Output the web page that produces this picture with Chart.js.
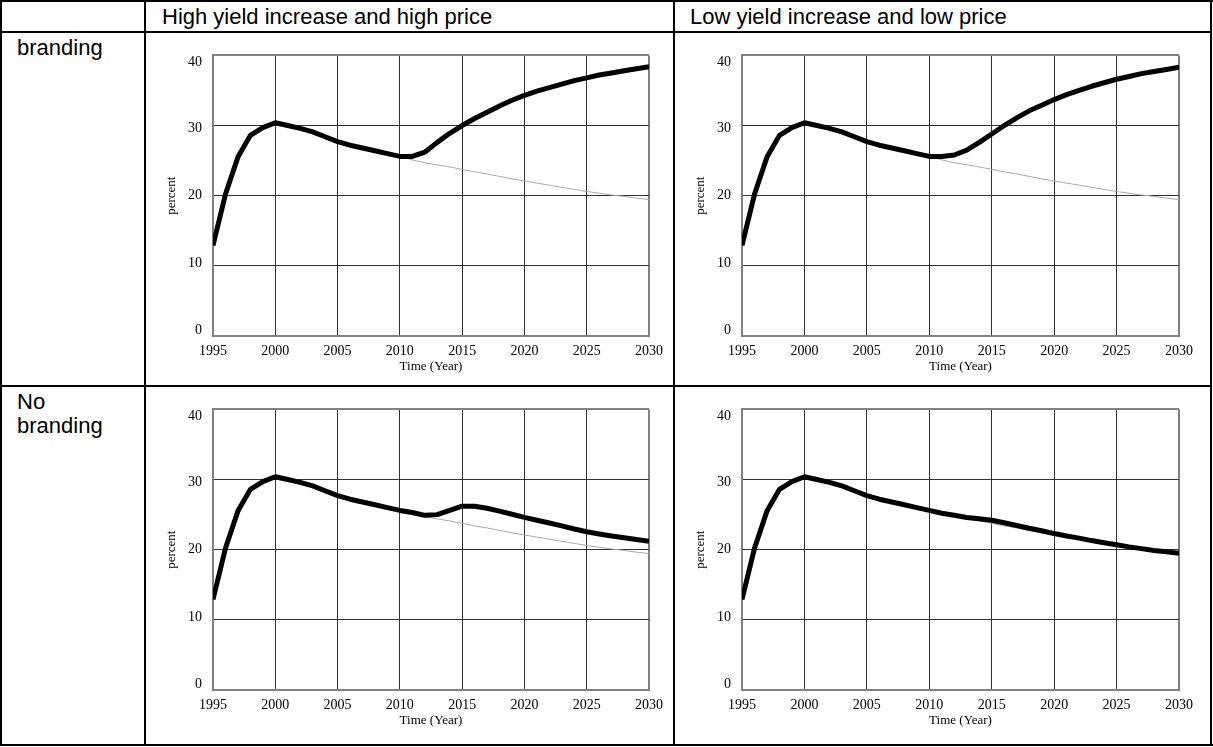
<!DOCTYPE html>
<html>
<head>
<meta charset="utf-8">
<script src="https://cdn.jsdelivr.net/npm/chart.js@4.4.1/dist/chart.umd.min.js"></script>
<style>
  body { margin: 0; background: #fff; width: 1213px; height: 747px; position: relative; overflow: hidden; font-family: "Liberation Sans", Arial, sans-serif; color: #000; }
  .line { position: absolute; background: #000; }
  .head { position: absolute; top: 2px; height: 30px; line-height: 30px; font-size: 22px; white-space: nowrap; }
  .rowlab { position: absolute; left: 17px; width: 112px; font-size: 22px; line-height: 24px; }
  canvas { position: absolute; }
</style>
</head>
<body>
<!-- table frame -->
<div class="line" style="left:0;top:0;width:1213px;height:2px"></div>
<div class="line" style="left:0;top:744px;width:1213px;height:2px"></div>
<div class="line" style="left:0;top:0;width:2px;height:746px"></div>
<div class="line" style="left:1210px;top:0;width:2px;height:746px"></div>
<div class="line" style="left:0;top:31px;width:1212px;height:2px"></div>
<div class="line" style="left:0;top:385px;width:1212px;height:2px"></div>
<div class="line" style="left:144px;top:0;width:2px;height:746px"></div>
<div class="line" style="left:673px;top:0;width:2px;height:746px"></div>

<div class="head" style="left:162px">High yield increase and high price</div>
<div class="head" style="left:690px">Low yield increase and low price</div>
<div class="rowlab" style="top:36px">branding</div>
<div class="rowlab" style="top:390px">No branding</div>

<canvas id="c1" width="520" height="348" style="left:150px;top:36px"></canvas>
<canvas id="c2" width="521" height="348" style="left:679px;top:36px"></canvas>
<canvas id="c3" width="520" height="348" style="left:150px;top:390px"></canvas>
<canvas id="c4" width="521" height="348" style="left:679px;top:390px"></canvas>

<script>
// Years on the x axis
const years = [1995, 1996, 1997, 1998, 1999, 2000, 2001, 2002, 2003, 2004, 2005, 2006,
    2007, 2008, 2009, 2010, 2011, 2012, 2013, 2014, 2015, 2016, 2017, 2018,
    2019, 2020, 2021, 2022, 2023, 2024, 2025, 2026, 2027, 2028, 2029, 2030];
const xTicks = [1995, 2000, 2005, 2010, 2015, 2020, 2025, 2030];
const yTicks = [0, 10, 20, 30, 40];

// Reference run (thin grey line, same in every panel)
const baseline = [12.9, 20.2, 25.5, 28.6, 29.7, 30.4, 30.0, 29.6, 29.1, 28.4, 27.7, 27.2,
    26.8, 26.4, 26.0, 25.6, 25.1, 24.7, 24.4, 24.1, 23.75, 23.4, 23.1, 22.75,
    22.4, 22.1, 21.8, 21.5, 21.2, 20.9, 20.6, 20.35, 20.1, 19.9, 19.65, 19.45];

// Scenario runs (thick black line)
const brandHigh = [12.9, 20.2, 25.5, 28.6, 29.7, 30.4, 30.0, 29.6, 29.1, 28.4, 27.7, 27.2,
    26.8, 26.4, 26.0, 25.6, 25.6, 26.2, 27.6, 28.9, 30.0, 31.0, 31.9, 32.8,
    33.6, 34.3, 34.9, 35.4, 35.9, 36.4, 36.8, 37.2, 37.5, 37.8, 38.1, 38.4];
const brandLow = [12.9, 20.2, 25.5, 28.6, 29.7, 30.4, 30.0, 29.6, 29.1, 28.4, 27.7, 27.2,
    26.8, 26.4, 26.0, 25.6, 25.6, 25.8, 26.5, 27.6, 28.8, 30.0, 31.1, 32.1,
    32.9, 33.7, 34.4, 35.0, 35.6, 36.1, 36.6, 37.0, 37.4, 37.7, 38.0, 38.3];
const noBrandHigh = [12.9, 20.2, 25.5, 28.6, 29.7, 30.4, 30.0, 29.6, 29.1, 28.4, 27.7, 27.2,
    26.8, 26.4, 26.0, 25.6, 25.3, 24.9, 25.0, 25.6, 26.2, 26.2, 25.9, 25.5,
    25.05, 24.6, 24.2, 23.8, 23.4, 22.95, 22.55, 22.25, 21.95, 21.7, 21.45, 21.2];
const noBrandLow = [12.9, 20.2, 25.5, 28.6, 29.7, 30.4, 30.0, 29.6, 29.1, 28.4, 27.7, 27.2,
    26.8, 26.4, 26.0, 25.6, 25.2, 24.9, 24.6, 24.4, 24.2, 23.85, 23.45, 23.05,
    22.7, 22.3, 21.95, 21.65, 21.3, 21.0, 20.7, 20.4, 20.15, 19.9, 19.7, 19.5];

const serif = 'Liberation Serif, Times New Roman, serif';
const frameColor = '#808080';
const gridColor = '#333';

// The y labels sit a little inside the frame at the ends (vensim style)
const yLabelShift = [-6, -3, 0, 3, 7];
const labelShiftPlugin = {
    id: 'labelShift',
    beforeDraw(chart) {
        const items = chart.scales.y.getLabelItems();
        items.forEach((item, i) => {
            if (item.shifted) return;
            item.options.translation[1] += yLabelShift[i] || 0;
            item.shifted = true;
        });
    }
};

function toPoints(arr) {
    return arr.map((v, i) => ({ x: years[i], y: v }));
}

function makePanel(id, values) {
    const xFirst = xTicks[0], xLast = xTicks[xTicks.length - 1];
    const yFirst = yTicks[0], yLast = yTicks[yTicks.length - 1];
    new Chart(document.getElementById(id), {
        type: 'line',
        data: {
            datasets: [{
                data: toPoints(values),
                borderColor: '#000',
                borderWidth: 5,
                borderJoinStyle: 'round',
                pointRadius: 0,
                tension: 0
            }, {
                data: toPoints(baseline),
                borderColor: '#a8a8a8',
                borderWidth: 1,
                pointRadius: 0,
                tension: 0
            }]
        },
        plugins: [labelShiftPlugin],
        options: {
            responsive: false,
            animation: false,
            devicePixelRatio: 1,
            layout: { padding: { top: 6, right: 20, left: 0, bottom: 0 } },
            plugins: { legend: { display: false }, tooltip: { enabled: false } },
            scales: {
                x: {
                    type: 'linear',
                    min: xFirst,
                    max: xLast,
                    afterBuildTicks: s => { s.ticks = xTicks.map(v => ({ value: v })); },
                    afterFit: s => { s.height = 48; },
                    ticks: {
                        padding: 7,
                        color: '#000',
                        maxRotation: 0,
                        autoSkip: false,
                        font: { family: serif, size: 14 },
                        callback: v => String(v)
                    },
                    grid: {
                        drawTicks: false,
                        color: c => (c.tick && (c.tick.value === xFirst || c.tick.value === xLast)) ? frameColor : gridColor,
                        lineWidth: c => (c.tick && (c.tick.value === xFirst || c.tick.value === xLast)) ? 2 : 1
                    },
                    border: { display: true, color: frameColor, width: 2 },
                    title: {
                        display: true,
                        text: 'Time (Year)',
                        color: '#000',
                        font: { family: serif, size: 13 },
                        padding: { top: 0, bottom: 10 }
                    }
                },
                y: {
                    min: yFirst,
                    max: yLast,
                    afterBuildTicks: s => { s.ticks = yTicks.map(v => ({ value: v })); },
                    afterFit: s => { s.width = 63; },
                    ticks: {
                        padding: 11,
                        color: '#000',
                        font: { family: serif, size: 14 },
                        callback: v => String(v)
                    },
                    grid: {
                        drawTicks: false,
                        color: c => (c.tick && (c.tick.value === yFirst || c.tick.value === yLast)) ? frameColor : gridColor,
                        lineWidth: c => (c.tick && (c.tick.value === yFirst || c.tick.value === yLast)) ? 2 : 1
                    },
                    border: { display: true, color: frameColor, width: 2 },
                    title: {
                        display: true,
                        text: 'percent',
                        color: '#000',
                        font: { family: serif, size: 13 },
                        padding: { top: 14, bottom: 0 }
                    }
                }
            }
        }
    });
}

makePanel('c1', brandHigh);
makePanel('c2', brandLow);
makePanel('c3', noBrandHigh);
makePanel('c4', noBrandLow);
</script>
</body>
</html>
